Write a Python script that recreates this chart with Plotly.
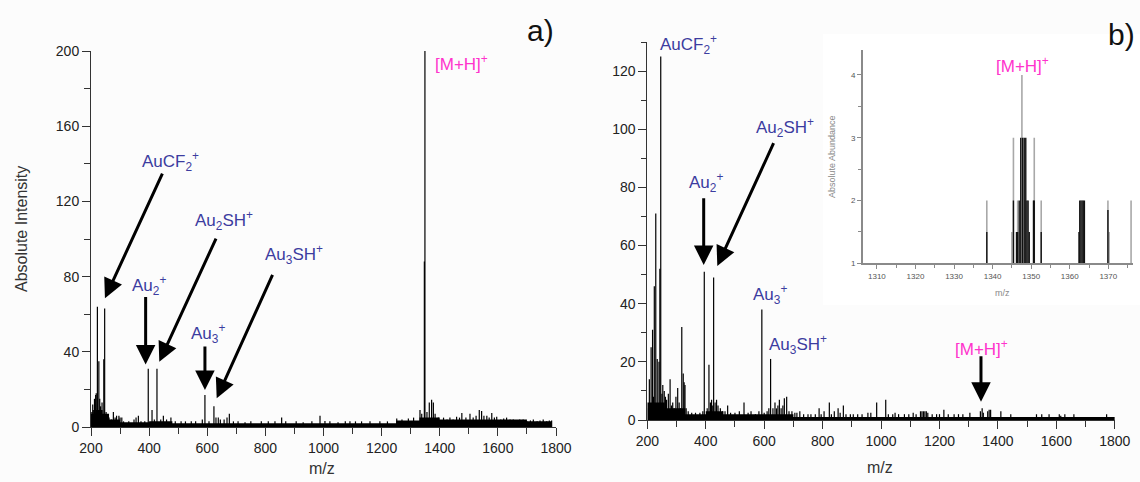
import plotly.graph_objects as go

# ---- panel a) : stick spectrum (m/z, absolute intensity)
a_mz = [203, 206, 208, 212, 216, 218, 222, 227, 230, 233, 238, 244, 247, 252, 256, 262,
        270, 277, 283, 288, 296, 300, 306, 312, 330, 348, 355, 363, 372, 385, 397, 410,
        418, 427, 440, 449, 460, 475, 490, 510, 525, 545, 560, 583, 592, 606, 623, 630,
        638, 645, 658, 668, 676, 690, 706, 730, 750, 786, 810, 833, 856, 870, 906, 930,
        960, 988, 1005, 1022, 1050, 1075, 1091, 1110, 1131, 1160, 1194, 1220, 1252, 1270,
        1292, 1310, 1332, 1338, 1347, 1349, 1356, 1364, 1372, 1378, 1384, 1395, 1413,
        1425, 1435, 1446, 1458, 1468, 1476, 1490, 1504, 1515, 1525, 1536, 1544, 1552,
        1562, 1570, 1579, 1588, 1596, 1610, 1620, 1630, 1642, 1653, 1665, 1675, 1687,
        1700, 1712, 1722, 1735, 1745, 1756, 1768, 1777, 1785]
a_int = [8, 12, 9, 15, 17, 18, 64, 35, 15, 11, 13, 36, 63, 8, 6, 5,
         4, 8, 5, 6, 6, 5, 5, 3, 3, 4, 5, 6, 3, 3, 31, 9,
         4, 31, 4, 6, 4, 5, 3, 3, 3, 3, 3, 4, 17, 3, 11, 5,
         5, 4, 4, 5, 7, 3, 3, 2.5, 3, 3, 3, 3, 5, 3, 3, 2.5,
         3, 6, 3.2, 3, 2.5, 3, 3, 3, 3, 3, 3, 3, 4.5, 4,
         4.5, 5, 9, 7, 88, 200, 8, 13, 14.5, 13, 7, 5, 5,
         4, 5, 4, 5.5, 5, 7.4, 5, 7, 5, 6, 9, 8.5, 6,
         6, 5, 7.4, 5, 5.5, 4, 4.5, 5, 4, 4, 3.5, 4, 4,
         3, 3.5, 4, 3, 3.5, 4, 3, 3.5, 3.5]
# dense noise band under the sticks (bin start m/z, band height)
a_band_mz = [200, 215, 240, 262, 300, 400, 480, 1250, 1330, 1400, 1700, 1785]
a_band = [7, 9, 7, 4, 2.5, 3, 2, 3.5, 5, 4, 3, 0]

# ---- panel b)
b_mz = [204, 207, 210, 213, 218, 221, 224, 229, 234, 240, 243, 246, 250, 253, 258, 262,
        266, 272, 278, 283, 287, 292, 298, 304, 309, 313, 318, 323, 326, 329, 333, 340,
        352, 365, 380, 390, 395, 405, 411, 416, 420, 424, 427, 432, 437, 442, 450, 458,
        466, 475, 485, 500, 515, 531, 545, 555, 570, 582, 592, 600, 610, 616, 622, 630,
        637, 642, 647, 652, 658, 664, 669, 677, 685, 695, 705, 712, 722, 735, 750, 760,
        775, 788, 795, 805, 823, 830, 840, 853, 860, 871, 880, 895, 905, 920, 935, 955,
        965, 985, 1016, 1025, 1040, 1048, 1060, 1080, 1095, 1110, 1120, 1135, 1140, 1145,
        1150, 1155, 1160, 1175, 1190, 1200, 1215, 1230, 1250, 1265, 1280, 1304, 1340,
        1346, 1350, 1365, 1370, 1375, 1410, 1444, 1532, 1550, 1575, 1610, 1615, 1629,
        1660, 1772]
b_int = [4, 14, 4, 25, 31, 8, 46, 71, 21, 20, 52, 125, 9, 12, 10, 8,
         7, 9, 14, 5, 6, 4, 8, 11, 6, 4, 32, 16, 13, 12, 4, 3,
         2.5, 2.5, 2.5, 3, 51, 4, 19, 6, 7, 5, 49, 6, 7, 5, 4, 3,
         3, 5, 2.5, 2.5, 3, 6, 2.5, 3, 2, 3, 38, 2.5, 3, 4, 21, 4,
         6, 4, 5, 7, 4, 5, 7.5, 8, 3, 3, 2.5, 2.5, 3, 2, 2, 2,
         2, 4, 2, 3, 6, 2, 3, 4, 2.5, 5, 2, 2, 2, 2, 2, 2.5,
         2.5, 6, 7, 2, 2, 2.5, 2, 2, 2, 2.5, 2, 3, 3, 3,
         3, 3, 2.5, 2, 2, 2, 3.5, 2, 2, 2, 2, 2.5, 3,
         4, 2.5, 3, 3.5, 3.5, 3, 2, 2, 2, 2, 2, 1.5, 2,
         2, 2]
b_band_mz = [200, 260, 330, 400, 460, 600, 700, 1800]
b_band = [6, 4, 2, 3, 2, 2, 1, 0]

# ---- inset (zoom around [M+H]+), two overlaid stick sets
ins_grey_mz = [1338.5, 1345.0, 1345.4, 1346.5, 1347.6, 1350.8, 1352.6, 1369.9, 1370.2, 1375.9]
ins_grey = [2, 1.5, 3, 2, 4, 3, 2, 2, 1.5, 2]
ins_black_mz = [1338.5, 1345.4, 1346.2, 1346.5, 1346.9, 1347.3, 1347.8, 1348.2, 1348.6,
                1348.9, 1349.2, 1349.5, 1350.6, 1350.8, 1352.6, 1362.4, 1362.6, 1362.9,
                1363.2, 1363.5, 1363.8, 1369.9]
ins_black = [1.5, 2, 1.5, 1.5, 2, 3, 3, 3, 3,
             2, 2, 1.5, 2, 2, 1.5, 1.5, 2, 2,
             2, 2, 2, 1.85]

BLUE = '#3c3ca0'
PINK = '#ff33cc'
FONT = 'Liberation Sans, Arial, sans-serif'


def sticks(mz, inten, base=0):
    xs, ys = [], []
    for m, v in zip(mz, inten):
        xs += [m, m, None]
        ys += [base, v, None]
    return xs, ys


fig = go.Figure()

for band_mz, band, xa, ya in [(a_band_mz, a_band, 'x', 'y'), (b_band_mz, b_band, 'x2', 'y2')]:
    fig.add_trace(go.Scatter(x=band_mz, y=band, xaxis=xa, yaxis=ya, mode='lines',
                             line=dict(width=0, shape='hv', color='black'),
                             fill='tozeroy', fillcolor='black', hoverinfo='skip'))

for mz, inten, xa, ya in [(a_mz, a_int, 'x', 'y'), (b_mz, b_int, 'x2', 'y2')]:
    xs, ys = sticks(mz, inten)
    fig.add_trace(go.Scatter(x=xs, y=ys, xaxis=xa, yaxis=ya, mode='lines',
                             line=dict(width=1.2, color='black')))

xs, ys = sticks(ins_grey_mz, ins_grey, 1)
fig.add_trace(go.Scatter(x=xs, y=ys, xaxis='x3', yaxis='y3', mode='lines',
                         line=dict(width=1.6, color='#a8a8a8')))
xs, ys = sticks(ins_black_mz, ins_black, 1)
fig.add_trace(go.Scatter(x=xs, y=ys, xaxis='x3', yaxis='y3', mode='lines',
                         line=dict(width=1.4, color='#111111')))

W, H = 1140, 482


def axis(dom, rng, dtick, minor, anchor, size=14, col='#222', lc='#333', tl=8, lw=1):
    return dict(domain=dom, range=rng, anchor=anchor, tickmode='linear', tick0=0, dtick=dtick,
                showgrid=False, zeroline=False, showline=True, linecolor=lc, linewidth=lw,
                ticks='outside', ticklen=tl, tickcolor=lc, automargin=False,
                minor=dict(ticks='outside', dtick=minor, ticklen=tl * 0.7, tickcolor=lc),
                tickfont=dict(size=size, color=col, family=FONT), fixedrange=True)


layout = dict(
    width=W, height=H, autosize=False, margin=dict(l=0, r=0, t=0, b=0, pad=0),
    paper_bgcolor='#fcfcfc', plot_bgcolor='rgba(0,0,0,0)', showlegend=False,
    font=dict(family=FONT),
    xaxis=axis([91 / W, 556 / W], [200, 1800], 200, 100, 'y'),
    yaxis=axis([1 - 427 / H, 1 - 51 / H], [0, 200], 40, 20, 'x'),
    xaxis2=axis([647.3 / W, 1114.8 / W], [200, 1800], 200, 100, 'y2'),
    yaxis2=axis([1 - 420 / H, 1 - 42 / H], [0, 130], 20, 10, 'x2'),
    xaxis3=axis([863 / W, 1133 / W], [1306.4, 1376.4], 10, 5, 'y3', size=8, col='#555',
                lc='#8a8a8a', tl=4, lw=2),
    yaxis3=axis([1 - 263.3 / H, 1 - 49.8 / H], [1, 4.4], 1, 0.5, 'x3', size=8, col='#555',
                lc='#8a8a8a', tl=4, lw=2),
)
layout['xaxis3']['tick0'] = 1300
layout['yaxis3']['tick0'] = 1
fig.update_layout(**layout)

# white background of the inset picture
fig.add_shape(type='rect', xref='paper', yref='paper', x0=823 / W, x1=1,
              y0=1 - 305 / H, y1=1 - 34 / H, fillcolor='white', line=dict(width=0),
              layer='below')

# label texts: (text, m/z, y, axes, colour)
labels = [
    ('AuCF<sub>2</sub><sup>+</sup>', 474, 141, 'x', 'y', BLUE),
    ('Au<sub>2</sub><sup>+</sup>', 401, 75.5, 'x', 'y', BLUE),
    ('Au<sub>2</sub>SH<sup>+</sup>', 658, 110, 'x', 'y', BLUE),
    ('Au<sub>3</sub>SH<sup>+</sup>', 899, 91.5, 'x', 'y', BLUE),
    ('Au<sub>3</sub><sup>+</sup>', 601, 50, 'x', 'y', BLUE),
    ('AuCF<sub>2</sub><sup>+</sup>', 340, 129, 'x2', 'y2', BLUE),
    ('Au<sub>2</sub><sup>+</sup>', 401, 81.6, 'x2', 'y2', BLUE),
    ('Au<sub>2</sub>SH<sup>+</sup>', 671, 100.6, 'x2', 'y2', BLUE),
    ('Au<sub>3</sub><sup>+</sup>', 620, 43.3, 'x2', 'y2', BLUE),
    ('Au<sub>3</sub>SH<sup>+</sup>', 717, 25.8, 'x2', 'y2', BLUE),
    ('[M+H]<sup>+</sup>', 1344, 24.9, 'x2', 'y2', PINK),
    ('[M+H]<sup>+</sup>', 1347.7, 4.16, 'x3', 'y3', PINK),
]
for t, x, y, xr, yr, c in labels:
    fig.add_annotation(text=t, x=x, y=y, xref=xr, yref=yr, showarrow=False,
                       xanchor='center', yanchor='middle',
                       font=dict(size=17, color=c, family=FONT))
fig.add_annotation(text='[M+H]<sup>+</sup>', x=1376, y=193.4, xref='x', yref='y',
                   xanchor='left', yanchor='middle', showarrow=False,
                   font=dict(size=17, color=PINK, family=FONT))

# arrows: (tail m/z, tail y, tip m/z, tip y, axes)
arrows = [
    (448, 135.6, 248, 68.5, 'x', 'y'),
    (388, 70, 388, 33.3, 'x', 'y'),
    (632.5, 101, 435, 34.7, 'x', 'y'),
    (592, 43.6, 592, 19.7, 'x', 'y'),
    (827, 81.7, 632.5, 15.3, 'x', 'y'),
    (393, 76.8, 393, 53.3, 'x2', 'y2'),
    (634.6, 95.7, 439.6, 53, 'x2', 'y2'),
    (1342, 22.4, 1342, 6.3, 'x2', 'y2'),
]
for ax_, ay_, x, y, xr, yr in arrows:
    fig.add_annotation(text='', x=x, y=y, ax=ax_, ay=ay_, xref=xr, yref=yr, axref=xr,
                       ayref=yr, showarrow=True, arrowhead=2, arrowsize=1.3, arrowwidth=3,
                       arrowcolor='black', standoff=0)

# axis titles and panel letters
titles = [
    ('Absolute Intensity', 21 / W, 1 - 229 / H, -90, 16, '#333'),
    ('m/z', 322 / W, 1 - 468 / H, 0, 16, '#333'),
    ('m/z', 880 / W, 1 - 467 / H, 0, 16, '#333'),
    ('Absolute Abundance', 832 / W, 1 - 157 / H, -90, 9, '#888'),
    ('m/z', 1002 / W, 1 - 293 / H, 0, 9, '#888'),
    ('a)', 540 / W, 1 - 30 / H, 0, 30, '#111'),
    ('b)', 1121 / W, 1 - 35 / H, 0, 30, '#111'),
]
for t, x, y, ang, sz, c in titles:
    fig.add_annotation(text=t, x=x, y=y, xref='paper', yref='paper', showarrow=False,
                       xanchor='center', yanchor='middle',
                       textangle=ang, font=dict(size=sz, color=c, family=FONT))

fig.write_html("out.html", config={'displayModeBar': False},
               post_script="document.body.style.margin='0';"
                           "document.body.style.overflow='hidden';")
